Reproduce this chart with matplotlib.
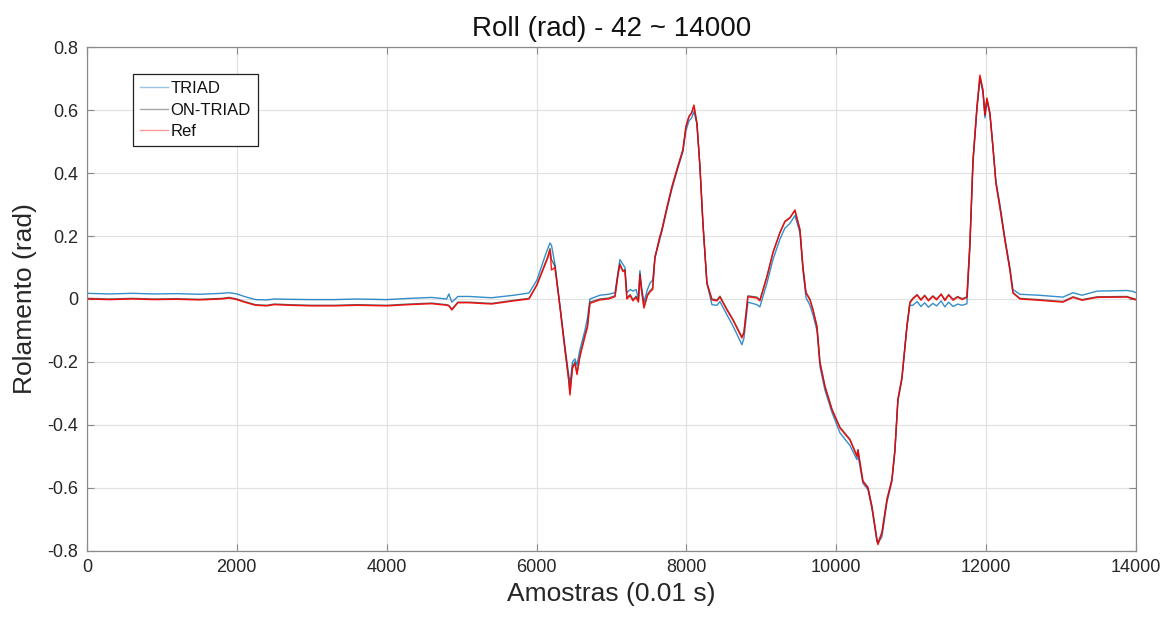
import numpy as np
import matplotlib
matplotlib.use('Agg')
import matplotlib.pyplot as plt

plt.rcParams['font.family'] = ['Liberation Sans', 'DejaVu Sans']

samples = [0, 300, 600, 900, 1200, 1500, 1800, 1900, 2000, 2100,
           2250, 2400, 2500, 2700, 3000, 3300, 3600, 4000, 4300, 4600,
           4800, 4830, 4870, 4950, 5100, 5400, 5700, 5900, 6005, 6112,
           6150, 6180, 6200, 6246, 6312, 6379, 6430, 6446, 6480, 6513,
           6540, 6580, 6646, 6680, 6713, 6846, 6960, 7047, 7090, 7113,
           7153, 7180, 7206, 7250, 7287, 7330, 7360, 7380, 7400, 7434,
           7480, 7514, 7550, 7580, 7647, 7674, 7741, 7808, 7874, 7954,
           7994, 8034, 8070, 8101, 8141, 8181, 8221, 8274, 8341, 8408,
           8448, 8541, 8621, 8741, 8768, 8821, 8941, 8981, 9075, 9155,
           9249, 9315, 9382, 9449, 9516, 9556, 9596, 9649, 9689, 9743,
           9783, 9850, 9943, 10050, 10183, 10276, 10290, 10356, 10423, 10476,
           10543, 10556, 10610, 10677, 10743, 10783, 10823, 10877, 10943, 10983,
           11023, 11080, 11130, 11180, 11230, 11290, 11340, 11400, 11450, 11500,
           11560, 11620, 11680, 11744, 11784, 11825, 11878, 11918, 11958, 11985,
           12011, 12051, 12091, 12131, 12185, 12251, 12318, 12358, 12451, 12700,
           13026, 13160, 13280, 13480, 13880, 13960, 14000]

triad = [0.018, 0.016, 0.018, 0.016, 0.017, 0.015, 0.018, 0.02, 0.016, 0.008,
         -0.002, -0.003, 0.0, -0.001, -0.002, -0.002, 0.0, -0.002, 0.002, 0.005,
         0.0, 0.016, -0.01, 0.008, 0.008, 0.004, 0.012, 0.019, 0.06, 0.135,
         0.16, 0.178, 0.17, 0.11, -0.02, -0.15, -0.24, -0.27, -0.2, -0.19,
         -0.21, -0.16, -0.1, -0.06, 0.0, 0.012, 0.015, 0.02, 0.09, 0.125,
         0.11, 0.1, 0.02, 0.03, 0.025, 0.03, 0.0, 0.09, 0.04, -0.01,
         0.03, 0.05, 0.06, 0.13, 0.19, 0.215, 0.285, 0.35, 0.405, 0.468,
         0.535, 0.565, 0.575, 0.595, 0.555, 0.42, 0.24, 0.05, -0.018, -0.02,
         -0.008, -0.05, -0.085, -0.145, -0.125, -0.01, -0.018, -0.025, 0.05, 0.125,
         0.19, 0.225, 0.24, 0.265, 0.21, 0.09, 0.005, -0.02, -0.05, -0.1,
         -0.215, -0.29, -0.36, -0.425, -0.465, -0.51, -0.495, -0.585, -0.605, -0.665,
         -0.77, -0.775, -0.755, -0.645, -0.58, -0.485, -0.325, -0.255, -0.09, -0.02,
         -0.02, -0.008, -0.024, -0.012, -0.026, -0.014, -0.022, -0.006, -0.025, -0.01,
         -0.024, -0.016, -0.02, -0.015, 0.16, 0.43, 0.6, 0.7, 0.655, 0.575,
         0.63, 0.585, 0.485, 0.375, 0.3, 0.195, 0.1, 0.03, 0.015, 0.012,
         0.006, 0.02, 0.012, 0.025, 0.027, 0.024, 0.02]

on_triad = [0.002, 0.0, 0.002, 0.0, 0.001, -0.001, 0.002, 0.005, 0.0, -0.008,
            -0.018, -0.02, -0.016, -0.018, -0.02, -0.02, -0.018, -0.02, -0.016, -0.013,
            -0.018, -0.02, -0.032, -0.01, -0.01, -0.014, -0.004, 0.002, 0.046, 0.112,
            0.135, 0.16, 0.125, 0.104, -0.022, -0.158, -0.255, -0.3, -0.215, -0.2,
            -0.235, -0.178, -0.115, -0.085, -0.01, 0.0, 0.003, 0.01, 0.083, 0.112,
            0.09, 0.093, 0.004, 0.014, -0.002, 0.009, -0.006, 0.08, 0.034, -0.025,
            0.014, 0.026, 0.035, 0.133, 0.2, 0.222, 0.292, 0.358, 0.412, 0.475,
            0.548, 0.58, 0.592, 0.612, 0.557, 0.42, 0.24, 0.052, 0.0, -0.003,
            0.009, -0.032, -0.064, -0.12, -0.105, 0.01, 0.006, -0.003, 0.072, 0.148,
            0.212, 0.247, 0.259, 0.28, 0.221, 0.102, 0.021, 0.0, -0.032, -0.086,
            -0.2, -0.276, -0.349, -0.407, -0.445, -0.497, -0.478, -0.577, -0.597, -0.657,
            -0.762, -0.775, -0.74, -0.635, -0.572, -0.478, -0.318, -0.248, -0.086, -0.01,
            0.003, 0.014, -0.001, 0.012, -0.003, 0.01, 0.0, 0.016, -0.002, 0.014,
            -0.001, 0.008, 0.001, 0.007, 0.178, 0.44, 0.61, 0.705, 0.663, 0.584,
            0.636, 0.59, 0.483, 0.368, 0.29, 0.187, 0.092, 0.021, 0.002, -0.002,
            -0.008, 0.007, -0.002, 0.007, 0.008, 0.002, -0.001]

ref = [0.0, -0.002, 0.0, -0.002, -0.001, -0.003, 0.0, 0.003, -0.002, -0.01,
       -0.02, -0.022, -0.018, -0.02, -0.022, -0.022, -0.02, -0.022, -0.018, -0.015,
       -0.02, -0.022, -0.035, -0.012, -0.012, -0.016, -0.006, 0.0, 0.044, 0.108,
       0.13, 0.156, 0.092, 0.1, -0.025, -0.162, -0.26, -0.305, -0.22, -0.205,
       -0.24, -0.183, -0.12, -0.09, -0.014, -0.003, 0.0, 0.007, 0.08, 0.108,
       0.087, 0.09, 0.0, 0.01, -0.006, 0.005, -0.01, 0.076, 0.03, -0.029,
       0.01, 0.022, 0.03, 0.13, 0.197, 0.219, 0.29, 0.356, 0.41, 0.473,
       0.546, 0.578, 0.59, 0.616, 0.557, 0.42, 0.24, 0.05, -0.003, -0.006,
       0.006, -0.035, -0.067, -0.124, -0.108, 0.007, 0.003, -0.006, 0.07, 0.146,
       0.21, 0.245, 0.257, 0.283, 0.219, 0.1, 0.019, -0.003, -0.035, -0.089,
       -0.204, -0.279, -0.352, -0.41, -0.448, -0.5, -0.48, -0.58, -0.6, -0.66,
       -0.765, -0.78, -0.743, -0.638, -0.575, -0.48, -0.32, -0.25, -0.088, -0.013,
       0.0, 0.012, -0.004, 0.01, -0.006, 0.008, -0.003, 0.015, -0.005, 0.012,
       -0.004, 0.006, -0.002, 0.005, 0.178, 0.44, 0.61, 0.711, 0.663, 0.584,
       0.638, 0.59, 0.483, 0.368, 0.29, 0.187, 0.092, 0.019, 0.0, -0.004,
       -0.01, 0.005, -0.004, 0.005, 0.006, 0.0, -0.003]

series_names = ['TRIAD', 'ON-TRIAD', 'Ref']
series_colors = ['#0072BD', '#222222', '#FF0000']
series_alpha = [0.8, 0.7, 0.9]

fig = plt.figure(figsize=(11.64, 6.17), dpi=100)
ax = fig.add_axes([0.0747, 0.107, 0.9012, 0.8168])

for y, name, c, a in zip([triad, on_triad, ref], series_names, series_colors, series_alpha):
    ax.plot(samples, y, color=c, lw=1.0, alpha=a, label=name)

ax.set_xlim(0, 14000)
ax.set_ylim(-0.8, 0.8)
ax.set_xticks(np.arange(0, 14001, 2000))
ax.set_yticks(np.arange(-0.8, 0.81, 0.2))
ax.set_yticklabels(['-0.8', '-0.6', '-0.4', '-0.2', '0', '0.2', '0.4', '0.6', '0.8'])

ax.grid(True, color='#e2e2e2', lw=0.9)
ax.set_axisbelow(True)
ax.tick_params(direction='in', top=True, right=True, length=5, width=0.8,
               color='#8a8a8a', labelsize=13, labelcolor='#262626', pad=6)
for s in ax.spines.values():
    s.set_color('#8a8a8a')
    s.set_linewidth(0.9)

ax.set_title('Roll (rad) - 42 ~ 14000', fontsize=20, color='#111111', pad=8)
ax.set_xlabel('Amostras (0.01 s)', fontsize=19, color='#262626', labelpad=4)
ax.set_ylabel('Rolamento (rad)', fontsize=19, color='#262626', labelpad=8)

leg = ax.legend(loc='upper left', bbox_to_anchor=(0.044, 0.946), borderaxespad=0,
                fontsize=12, fancybox=False, framealpha=1, edgecolor='#222222',
                handlelength=1.7, handletextpad=0.15, borderpad=0.4, labelspacing=0.4)
leg.get_frame().set_linewidth(0.9)
for h in leg.get_lines():
    h.set_alpha(0.4)
for t in leg.get_texts():
    t.set_color('#111111')

fig.savefig('out.png', dpi=100)
